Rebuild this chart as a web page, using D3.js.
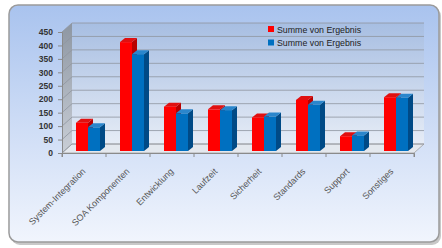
<!DOCTYPE html>
<html>
<head>
<meta charset="utf-8">
<script src="https://cdn.jsdelivr.net/npm/d3@7"></script>
<style>
  body { margin: 0; background: #fff; }
  svg { display: block; }
</style>
</head>
<body>
<div id="chart"></div>
<script>
var categories = ['System-Integration', 'SOA Komponenten', 'Entwicklung', 'Laufzeit', 'Sicherheit', 'Standards', 'Support', 'Sonstiges'];
var seriesNames = ['Summe von Ergebnis', 'Summe von Ergebnis'];
var redValues = [105, 405, 165, 155, 125, 190, 55, 200];
var blueValues = [88, 360, 140, 152, 128, 172, 58, 198];
var yTicks = [0, 50, 100, 150, 200, 250, 300, 350, 400, 450];

const W = 442, H = 248;
const WALL = { dx: 10, dy: -9 };
const BAR = { sx: 2, sy: -2, dx: 5, dy: -4 };
const colors = [
  { front: '#ff0000', side: '#b80000', top: '#e01010' },
  { front: '#0070c0', side: '#004a86', top: '#2a86cc' }
];

var svg = d3.select('#chart').append('svg')
  .attr('width', W).attr('height', H);

var defs = svg.append('defs');
var bg = defs.append('linearGradient').attr('id', 'bg').attr('x1', 0).attr('y1', 0).attr('x2', 0).attr('y2', 1);
bg.append('stop').attr('offset', '0%').attr('stop-color', '#a9c3ee');
bg.append('stop').attr('offset', '100%').attr('stop-color', '#f1f5fd');
var wallG = defs.append('linearGradient').attr('id', 'wall').attr('x1', 0).attr('y1', 0).attr('x2', 0).attr('y2', 1);
wallG.append('stop').attr('offset', '0%').attr('stop-color', '#a7bee2');
wallG.append('stop').attr('offset', '100%').attr('stop-color', '#e6ecf6');
var sideG = defs.append('linearGradient').attr('id', 'side').attr('x1', 0).attr('y1', 0).attr('x2', 0).attr('y2', 1);
sideG.append('stop').attr('offset', '0%').attr('stop-color', '#8d96a2');
sideG.append('stop').attr('offset', '100%').attr('stop-color', '#c9ced6');

// frame
svg.append('rect')
  .attr('x', 11).attr('y', 7).attr('width', 430).attr('height', 238).attr('rx', 9)
  .attr('fill', '#c8c8c8');
svg.append('rect')
  .attr('x', 9).attr('y', 5).attr('width', 430).attr('height', 237).attr('rx', 9)
  .attr('fill', 'url(#bg)').attr('stroke', '#9b9b9b').attr('stroke-width', 1.5);

var x = d3.scaleBand().domain(categories).range([62, 414]);
var sub = d3.scaleBand().domain([0, 1]).range([12, 36]);
var y = d3.scaleLinear().domain([0, 450]).range([153, 32]);

var x0 = x.range()[0], x1 = x.range()[1];
var yb = y(0), yt = y(450);

// back wall
svg.append('rect')
  .attr('x', x0 + WALL.dx).attr('y', yt + WALL.dy)
  .attr('width', x1 - x0).attr('height', yb - yt)
  .attr('fill', 'url(#wall)');

// left side wall
svg.append('path')
  .attr('d', 'M' + x0 + ',' + yt + 'L' + (x0 + WALL.dx) + ',' + (yt + WALL.dy) +
    'L' + (x0 + WALL.dx) + ',' + (yb + WALL.dy) + 'L' + x0 + ',' + yb + 'Z')
  .attr('fill', 'url(#side)');

// floor
svg.append('path')
  .attr('d', 'M' + x0 + ',' + yb + 'L' + (x0 + WALL.dx) + ',' + (yb + WALL.dy) +
    'L' + (x1 + WALL.dx) + ',' + (yb + WALL.dy) + 'L' + x1 + ',' + yb + 'Z')
  .attr('fill', '#e4e8ee').attr('stroke', '#a0a0a0').attr('stroke-width', 0.8);

// gridlines on back + side wall
svg.append('g').selectAll('path').data(yTicks).enter().append('path')
  .attr('d', function (d) {
    return 'M' + x0 + ',' + y(d) + 'L' + (x0 + WALL.dx) + ',' + (y(d) + WALL.dy) +
      'L' + (x1 + WALL.dx) + ',' + (y(d) + WALL.dy);
  })
  .attr('fill', 'none').attr('stroke', '#8f96a0').attr('stroke-width', 0.8);

// bars
function drawBars (values, idx) {
  var c = colors[idx];
  var g = svg.append('g');
  values.forEach(function (v, i) {
    var bx = x(categories[i]) + sub(idx) + BAR.sx;
    var bw = sub.bandwidth();
    var by0 = yb + BAR.sy;
    var by1 = y(v) + BAR.sy;
    g.append('path')
      .attr('d', 'M' + (bx + bw) + ',' + by1 + 'L' + (bx + bw + BAR.dx) + ',' + (by1 + BAR.dy) +
        'L' + (bx + bw + BAR.dx) + ',' + (by0 + BAR.dy) + 'L' + (bx + bw) + ',' + by0 + 'Z')
      .attr('fill', c.side);
    g.append('path')
      .attr('d', 'M' + bx + ',' + by1 + 'L' + (bx + BAR.dx) + ',' + (by1 + BAR.dy) +
        'L' + (bx + bw + BAR.dx) + ',' + (by1 + BAR.dy) + 'L' + (bx + bw) + ',' + by1 + 'Z')
      .attr('fill', c.top);
    g.append('rect')
      .attr('x', bx).attr('y', by1).attr('width', bw).attr('height', by0 - by1)
      .attr('fill', c.front);
  });
}
drawBars(redValues, 0);
drawBars(blueValues, 1);

// y axis
var yAxis = d3.axisLeft(y).tickValues(yTicks).tickSize(4).tickPadding(5);
var ya = svg.append('g').attr('transform', 'translate(' + x0 + ',0)').call(yAxis);
ya.select('.domain').attr('stroke', '#8a8a8a');
ya.selectAll('line').attr('stroke', '#8a8a8a');
ya.selectAll('text')
  .attr('font-family', 'Liberation Sans, Arial, sans-serif')
  .attr('font-size', 8.5).attr('font-weight', 'bold').attr('fill', '#333');

// x axis
var xAxis = d3.axisBottom(x).tickSize(4).tickFormat('');
var xa = svg.append('g').attr('transform', 'translate(0,' + yb + ')').call(xAxis);
xa.select('.domain').attr('stroke', '#8a8a8a');
xa.selectAll('line').attr('stroke', '#8a8a8a').attr('transform', 'translate(' + (-x.bandwidth() / 2) + ',0)');
xa.append('line')
  .attr('x1', x1).attr('x2', x1).attr('y1', 0).attr('y2', 4).attr('stroke', '#8a8a8a');

svg.append('g').selectAll('text').data(categories).enter().append('text')
  .attr('transform', function (d) {
    return 'translate(' + (x(d) + x.bandwidth() / 2 + 2) + ',' + (yb + 19) + ') rotate(-45)';
  })
  .attr('text-anchor', 'end')
  .attr('font-family', 'Liberation Sans, Arial, sans-serif')
  .attr('font-size', 9).attr('fill', '#555')
  .text(function (d) { return d; });

// legend
var legend = svg.append('g').attr('transform', 'translate(268,26)');
seriesNames.forEach(function (name, i) {
  var row = legend.append('g').attr('transform', 'translate(0,' + (i * 13.5) + ')');
  row.append('rect').attr('x', 0).attr('y', 0).attr('width', 6).attr('height', 6)
    .attr('fill', colors[i].front);
  row.append('text').attr('x', 9).attr('y', 6.5)
    .attr('font-family', 'Liberation Sans, Arial, sans-serif')
    .attr('font-size', 8.8).attr('fill', '#222')
    .text(name);
});
</script>
</body>
</html>
